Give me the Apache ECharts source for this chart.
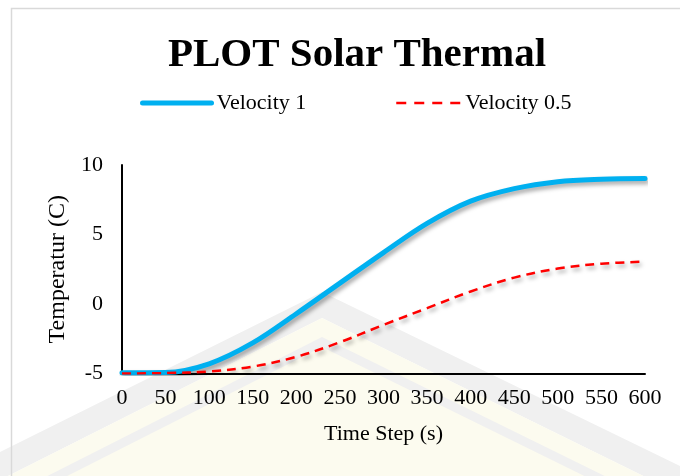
<!DOCTYPE html>
<html>
<head>
<meta charset="utf-8">
<title>PLOT Solar Thermal</title>
<script src="https://cdn.jsdelivr.net/npm/echarts@6/dist/echarts.min.js"></script>
<style>
  html, body { margin: 0; padding: 0; background: #ffffff; }
  #chart { width: 680px; height: 476px; }
</style>
</head>
<body>
<div id="chart"></div>
<script>
// Time steps (s) at which temperature was sampled
const timeSteps = [0, 50, 100, 150, 200, 250, 300, 350, 400, 450, 500, 550, 600];
// Temperature (C) for flow velocity 1
const velocity1 = [-4.95, -4.93, -4.3, -2.8, -0.7, 1.5, 3.7, 5.8, 7.4, 8.3, 8.8, 8.97, 9.02];
// Temperature (C) for flow velocity 0.5
const velocity05 = [-5, -4.97, -4.85, -4.5, -3.8, -2.75, -1.5, -0.3, 0.9, 1.9, 2.55, 2.9, 3.05];

const seriesNames = ['Velocity 1', 'Velocity 0.5'];
const yTicks = [-5, 0, 5, 10];

const FONT = '"Liberation Serif", "Times New Roman", serif';

const pairs = (ys) => timeSteps.map((t, i) => [t, ys[i]]);

const chart = echarts.init(document.getElementById('chart'), null, { renderer: 'canvas' });

const shadow = {
  shadowColor: 'rgba(0,0,0,0.35)',
  shadowBlur: 4,
  shadowOffsetX: 2,
  shadowOffsetY: 3
};

const legendText = { fontFamily: FONT, fontSize: 22, color: '#000000' };

chart.setOption({
  backgroundColor: '#ffffff',
  animation: false,
  title: {
    text: 'PLOT Solar Thermal',
    left: 352,
    textAlign: 'center',
    top: 30,
    textStyle: { fontFamily: FONT, fontWeight: 'bold', fontSize: 41, color: '#000000' }
  },
  legend: [
    {
      data: [seriesNames[0]],
      left: 135,
      top: 87,
      itemWidth: 69,
      itemHeight: 12,
      itemStyle: { opacity: 0 },
      lineStyle: { width: 5, cap: 'round' },
      textStyle: legendText
    },
    {
      data: [seriesNames[1]],
      left: 390,
      top: 87,
      itemWidth: 64,
      itemHeight: 12,
      itemStyle: { opacity: 0 },
      lineStyle: { width: 2.5, type: [10, 8] },
      textStyle: legendText
    }
  ],
  graphic: [
    // faint background emblem
    {
      type: 'polygon', z: -10, silent: true,
      shape: { points: [[0, 452], [322, 292], [680, 466], [680, 494], [322, 318], [0, 480]] },
      style: { fill: '#f0f0f0' }
    },
    {
      type: 'polygon', z: -10, silent: true,
      shape: { points: [[0, 480], [322, 318], [680, 494], [680, 476], [0, 476]] },
      style: { fill: '#fcfbef' }
    },
    {
      type: 'polygon', z: -9, silent: true,
      shape: { points: [[0, 500], [322, 337], [680, 513], [680, 523], [322, 347], [0, 510]] },
      style: { fill: '#f0f0f0' }
    },
    // outer frame
    {
      type: 'rect', z: -5, silent: true,
      shape: { x: 11.5, y: 8.5, width: 720, height: 520 },
      style: { fill: 'none', stroke: '#d9d9d9', lineWidth: 1.5 }
    }
  ],
  grid: { left: 122, right: 35, top: 165, bottom: 102.5, containLabel: false },
  xAxis: {
    type: 'value',
    min: 0,
    max: 600,
    interval: 50,
    name: 'Time Step (s)',
    nameLocation: 'middle',
    nameGap: 50,
    nameTextStyle: { fontFamily: FONT, fontSize: 22, color: '#000000' },
    axisLine: { show: true, onZero: false, lineStyle: { color: '#000000', width: 2 } },
    axisTick: { show: false },
    splitLine: { show: false },
    axisLabel: { fontFamily: FONT, fontSize: 22, color: '#000000', margin: 14 }
  },
  yAxis: {
    type: 'value',
    min: yTicks[0],
    max: yTicks[yTicks.length - 1],
    interval: 5,
    name: 'Temperatur (C)',
    nameLocation: 'middle',
    nameGap: 46,
    nameTextStyle: { fontFamily: FONT, fontSize: 24, color: '#000000' },
    axisLine: { show: true, lineStyle: { color: '#000000', width: 2 } },
    axisTick: { show: false },
    splitLine: { show: false },
    axisLabel: { fontFamily: FONT, fontSize: 22, color: '#000000', margin: 19 }
  },
  series: [
    {
      name: seriesNames[0],
      type: 'line',
      data: pairs(velocity1),
      smooth: 0.35,
      showSymbol: false,
      symbol: 'none',
      color: '#00b0f0',
      lineStyle: Object.assign({ color: '#00b0f0', width: 5, cap: 'round' }, shadow),
      z: 3
    },
    {
      name: seriesNames[1],
      type: 'line',
      data: pairs(velocity05),
      smooth: 0.35,
      showSymbol: false,
      symbol: 'none',
      color: '#ff0000',
      lineStyle: Object.assign({ color: '#ff0000', width: 2.5, type: [9, 6] }, shadow),
      z: 4
    }
  ]
});
</script>
</body>
</html>
